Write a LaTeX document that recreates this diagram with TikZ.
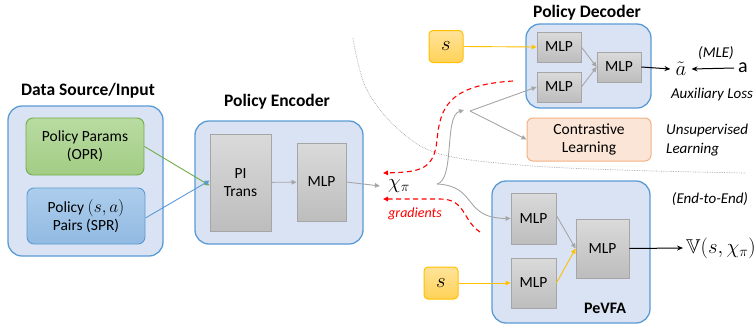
\documentclass[tikz,border=0pt]{standalone}
\usepackage{fontspec}
\usepackage{amssymb}
\setmainfont{Carlito}
\usetikzlibrary{arrows.meta}

\definecolor{panelfill}{HTML}{DAE3F3}
\definecolor{panelline}{HTML}{5B9BD5}
\definecolor{mlptop}{HTML}{DADADA}
\definecolor{mlpbot}{HTML}{BDBDBD}
\definecolor{mlpline}{HTML}{A6A6A6}
\definecolor{oprtop}{HTML}{B9DBA2}
\definecolor{oprbot}{HTML}{A2CD84}
\definecolor{oprline}{HTML}{70AD47}
\definecolor{sprtop}{HTML}{ADCDEC}
\definecolor{sprbot}{HTML}{91BAE2}
\definecolor{stop}{HTML}{FFE39A}
\definecolor{sbot}{HTML}{FFD257}
\definecolor{sline}{HTML}{FFC000}
\definecolor{clfill}{HTML}{FBE5D6}
\definecolor{clline}{HTML}{F4B183}
\definecolor{flowgray}{HTML}{A6A6A6}

\begin{document}
\begin{tikzpicture}[x=1pt, y=-1pt,
	every node/.style={inner sep=0pt, font=\fontsize{15.5}{18}\selectfont},
	panel/.style={draw=panelline, fill=panelfill, line width=1.3pt, rounded corners=14pt},
	title/.style={font=\fontsize{17.5}{20}\selectfont\bfseries},
	mlp/.style={draw=mlpline, top color=mlptop, bottom color=mlpbot, line width=0.8pt, align=center},
	sbox/.style={draw=sline, top color=stop, bottom color=sbot, line width=1pt, rounded corners=4pt,
		minimum width=34pt, minimum height=32pt, font=\fontsize{20}{22}\selectfont},
	note/.style={font=\fontsize{15}{18.5}\selectfont\itshape},
	bigmath/.style={font=\fontsize{20}{22}\selectfont},
	flow/.style={draw=flowgray, line width=0.9pt, -{Triangle[length=5pt, width=4.5pt]}},
	sflow/.style={draw=sline, line width=0.9pt, -{Triangle[length=5pt, width=4.5pt]}},
	outarrow/.style={draw=black, line width=1pt, -{Stealth[length=6pt, width=5pt]}},
	grad/.style={draw=red, line width=1.1pt, dash pattern=on 5pt off 3.5pt, -{Triangle[length=5pt, width=4.5pt]}},
]
\useasboundingbox (0,0) rectangle (756,325);

\newcommand\mlpnode[4]{
	\node[mlp, minimum width=#3, minimum height=#4] (#1) at #2 {MLP};
}

% boundary between the decoder part and the value part
\draw[gray!70, densely dotted, line width=0.7pt] plot[smooth, tension=0.6] coordinates
	{(353,38) (366,88) (398,129) (440,154) (520,165) (620,170) (745,173)};

% data source
\node[title] (srctitle) at (88,91) {Data Source/Input};
\node[panel, minimum width=155pt, minimum height=150pt] (src) at (85.5,181) {};
\node[draw=oprline, top color=oprtop, bottom color=oprbot, line width=0.9pt, rounded corners=7pt,
	minimum width=118pt, minimum height=57pt, align=center] (opr) at (85,146.5) {Policy Params\\(OPR)};
\node[draw=panelline, top color=sprtop, bottom color=sprbot, line width=0.9pt, rounded corners=7pt,
	minimum width=118pt, minimum height=56pt, align=center] (spr) at (86,216)
	{Policy {\fontsize{18}{18}\selectfont$(s,a)$}\\Pairs (SPR)};

% encoder
\node[title] (enctitle) at (277,102) {Policy Encoder};
\node[panel, minimum width=168pt, minimum height=123pt] (enc) at (279,182.5) {};
\node[mlp, minimum width=61pt, minimum height=97pt] (pit) at (240.5,182.5) {PI\\Trans};
\mlpnode{encmlp}{(321.5,182)}{49pt}{78pt}
\node[bigmath] (chi) at (399,186) {$\chi_\pi$};

% decoder
\node[title] (dectitle) at (587,13) {Policy Decoder};
\node[panel, minimum width=125pt, minimum height=84pt] (dec) at (588.5,66) {};
\mlpnode{dmlpa}{(559,47)}{44pt}{30pt}
\mlpnode{dmlpb}{(559,87)}{44pt}{30pt}
\mlpnode{dmlpc}{(619,67)}{44pt}{30pt}
\node[sbox] (sdec) at (446,46.5) {$s$};
\node[bigmath] (atilde) at (681,69) {$\tilde{a}$};
\node[bigmath] (atrue) at (743,68) {$\mathrm{a}$};
\node[note] (mle) at (716,53) {(MLE)};
\node[note] (aux) at (712,94) {Auxiliary Loss};
\node[draw=clline, fill=clfill, line width=1pt, rounded corners=6pt,
	minimum width=124pt, minimum height=43pt, align=center] (cl) at (589,139.5) {Contrastive\\Learning};
\node[note, anchor=west, align=left] (unsup) at (666,140) {Unsupervised\\Learning};
\node[note] (e2e) at (710,199) {(End-to-End)};

% value function
\node[panel, minimum width=158pt, minimum height=142pt] (pev) at (571,252) {};
\mlpnode{pmlpa}{(533.5,218.5)}{45pt}{51pt}
\mlpnode{pmlpb}{(533.5,283)}{45pt}{50pt}
\mlpnode{pmlpc}{(602.5,248.5)}{53pt}{59pt}
\node[font=\fontsize{16}{18}\selectfont\bfseries] (pevtitle) at (605,308) {PeVFA};
\node[sbox] (spev) at (441,283) {$s$};
\node[bigmath] (vout) at (721,248) {$\mathbb{V}(s,\chi_\pi)$};

\coordinate (split) at (437,184);
\coordinate (fork) at (464,110);
\coordinate (forkout) at (470,111);

% connectors
\draw[flow, draw=oprline] (opr.east) -- ([yshift=-3pt]pit.west);
\draw[flow, draw=panelline] ([yshift=-2pt]spr.east) -- ([yshift=2pt]pit.west);
\draw[flow] (pit) -- (encmlp);
\draw[flow] (encmlp.east) -- ([xshift=-8pt]chi.west);
\draw[flow] (split) .. controls (455,180) and (444,116) .. (fork);
\draw[flow] (split) .. controls (478,186) and (462,218) .. (pmlpa.west);
\draw[flow] (forkout) -- (dmlpb.west);
\draw[flow] (forkout) -- (cl.west);
\draw[sflow] (sdec.east) -- (dmlpa.west);
\draw[flow] (dmlpa.east) -- (dmlpc.west);
\draw[flow] (dmlpb.east) -- (dmlpc.west);
\draw[outarrow] (dmlpc.east) -- ([xshift=-5pt]atilde.west);
\draw[outarrow, {Stealth[length=6pt, width=5pt]}-] ([xshift=5pt]atilde.east) -- ([xshift=-4pt]atrue.west);
\draw[flow] ([yshift=3pt]pmlpa.east) -- (pmlpc.west);
\draw[sflow] (spev.east) -- (pmlpb.west);
\draw[sflow] (pmlpb.east) -- (pmlpc.west);
\draw[outarrow] (pmlpc.east) -- ([xshift=-3pt]vout.west);

% gradients flowing back
\draw[grad] (513,81) .. controls (448,85) and (440,108) .. (437,140)
	.. controls (434,170) and (420,172) .. (383,173);
\draw[grad] (480,232) .. controls (462,220) and (466,199) .. (440,199) -- (383,199);
\node[text=red, font=\fontsize{14}{16}\selectfont\itshape] (gradlabel) at (415,214) {gradients};

\end{tikzpicture}
\end{document}
